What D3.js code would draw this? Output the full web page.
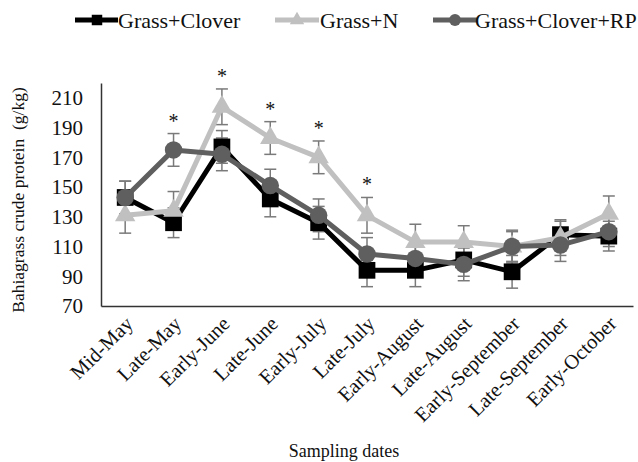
<!DOCTYPE html>
<meta charset="utf-8">
<title>Bahiagrass crude protein</title>
<style>
    body { margin: 0; background: #fff; }
    svg text { font-family: "Liberation Serif", "Times New Roman", serif !important; fill: #111; }
</style>
<body>
<svg width="638" height="462"></svg>
<script src="https://d3js.org/d3.v7.min.js"></script>
<script>
    const dates = ["Mid-May", "Late-May", "Early-June", "Late-June", "Early-July", "Late-July",
        "Early-August", "Late-August", "Early-September", "Late-September", "Early-October"];
    const seriesNames = ["Grass+Clover", "Grass+N", "Grass+Clover+RP"];
    const grassClover = [143, 126, 177, 142, 126, 94, 94, 101, 93, 118, 117];
    const grassN = [131, 134, 204, 183, 170, 131, 113, 113, 110, 116, 132];
    const grassCloverRP = [143, 175, 172, 151, 131, 105, 102, 98, 110, 111, 120];
    const errClover = [11, 10, 11, 12, 11, 11, 11, 11, 11, 9, 10];
    const errN = [12, 13, 12, 11, 11, 12, 12, 11, 10, 12, 12];
    const errCloverRP = [11, 11, 11, 11, 11, 11, 11, 11, 11, 11, 10];
    const sigDates = ["Late-May", "Early-June", "Late-June", "Early-July", "Late-July"];
    const yTicks = [70, 90, 110, 130, 150, 170, 190, 210];

    const series = [
        {name: seriesNames[0], values: grassClover, err: errClover, color: "#000", shape: "square"},
        {name: seriesNames[1], values: grassN, err: errN, color: "#c0c0c0", shape: "triangle"},
        {name: seriesNames[2], values: grassCloverRP, err: errCloverRP, color: "#5f5f5f", shape: "circle"}
    ];

    const svg = d3.select("svg");
    const plotLeft = 101, plotRight = 633, plotTop = 83, plotBottom = 306;

    const x = d3.scaleBand().domain(dates).range([plotLeft, plotRight]);
    const y = d3.scaleLinear().domain([70, 220]).range([plotBottom, plotTop]);
    const cx = d => x(d) + x.bandwidth() / 2;

    const symbolFor = {
        square: d3.symbolSquare,
        triangle: d3.symbolTriangle,
        circle: d3.symbolCircle
    };

    // axes: plain lines, no ticks
    const yAxis = svg.append("g").attr("transform", `translate(${plotLeft},0)`)
        .call(d3.axisLeft(y).tickValues(yTicks).tickSize(0).tickPadding(18));
    yAxis.attr("font-family", null);
    yAxis.select(".domain").attr("stroke", "#333").attr("stroke-width", 1.5);
    yAxis.selectAll("text").style("font-size", "21px").attr("fill", "#111");

    const xAxis = svg.append("g").attr("transform", `translate(0,${plotBottom})`)
        .call(d3.axisBottom(x).tickSize(0).tickFormat(""));
    xAxis.select(".domain").attr("stroke", "#333").attr("stroke-width", 1.5);

    svg.append("g").selectAll("text")
        .data(dates)
        .join("text")
        .attr("transform", d => `translate(${cx(d) + 9},${plotBottom + 19}) rotate(-45)`)
        .attr("text-anchor", "end")
        .style("font-size", "20.5px")
        .text(d => d);

    // error bars
    const errG = svg.append("g").attr("stroke", "#7a7a7a").attr("stroke-width", 1.5);
    series.forEach(s => {
        dates.forEach((d, i) => {
            const hi = y(s.values[i] + s.err[i]), lo = y(s.values[i] - s.err[i]);
            errG.append("line").attr("x1", cx(d)).attr("x2", cx(d)).attr("y1", hi).attr("y2", lo);
            errG.append("line").attr("x1", cx(d) - 6).attr("x2", cx(d) + 6).attr("y1", hi).attr("y2", hi);
            errG.append("line").attr("x1", cx(d) - 6).attr("x2", cx(d) + 6).attr("y1", lo).attr("y2", lo);
        });
    });

    const line = d3.line().x((v, i) => cx(dates[i])).y(v => y(v));

    series.forEach(s => {
        const g = svg.append("g");
        g.append("path")
            .attr("d", line(s.values))
            .attr("fill", "none")
            .attr("stroke", s.color)
            .attr("stroke-width", 5)
            .attr("stroke-linejoin", "round");
        g.selectAll("path.pt")
            .data(s.values)
            .join("path")
            .attr("class", "pt")
            .attr("transform", (v, i) => `translate(${cx(dates[i])},${y(v)})`)
            .attr("d", d3.symbol().type(symbolFor[s.shape]).size(s.shape === "square" ? 280 : s.shape === "circle" ? 240 : 180))
            .attr("fill", s.color);
    });

    // significance marks
    svg.append("g").selectAll("text")
        .data(sigDates)
        .join("text")
        .attr("x", d => cx(d))
        .attr("y", d => {
            const i = dates.indexOf(d);
            const maxTop = d3.max(series, s => s.values[i] + s.err[i]);
            return y(maxTop) - 15 + 9;
        })
        .attr("text-anchor", "middle")
        .style("font-size", "20px")
        .text("*");

    // axis titles
    svg.append("text")
        .attr("transform", `translate(24,200) rotate(-90)`)
        .attr("text-anchor", "middle")
        .style("font-size", "17.5px")
        .style("white-space", "pre")
        .text("Bahiagrass crude protein  (g/kg)");

    svg.append("text")
        .attr("x", 344).attr("y", 457)
        .attr("text-anchor", "middle")
        .style("font-size", "18px")
        .text("Sampling dates");

    // legend
    const legendX = [75, 275, 433];
    const legend = svg.append("g").selectAll("g")
        .data(series)
        .join("g")
        .attr("transform", (s, i) => `translate(${legendX[i]},20)`);
    legend.append("line")
        .attr("x1", 0).attr("x2", (s, i) => i === 0 ? 43 : 44)
        .attr("stroke", s => s.color).attr("stroke-width", 5);
    legend.append("path")
        .attr("transform", "translate(22,0)")
        .attr("d", s => d3.symbol().type(symbolFor[s.shape]).size(s.shape === "triangle" ? 90 : 110)())
        .attr("fill", s => s.color);
    legend.append("text")
        .attr("x", (s, i) => i === 0 ? 43 : i === 1 ? 45 : 42)
        .attr("dy", "0.35em")
        .style("font-size", "22px")
        .text(s => s.name);
</script>
</body>
